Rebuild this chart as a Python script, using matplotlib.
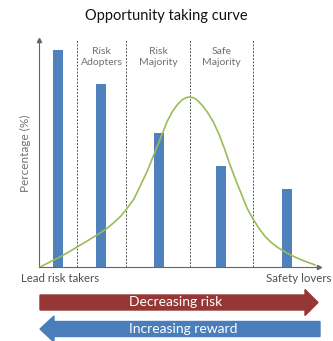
import numpy as np
import matplotlib
matplotlib.use("Agg")
import matplotlib.pyplot as plt
from matplotlib.patches import FancyArrow

plt.rcParams['font.family'] = ['Lato', 'DejaVu Sans']

# Data
bar_x = [19, 62, 120, 182, 248]
bar_h = [95.6, 80.6, 59.0, 44.5, 34.4]
div_x = [38, 87, 151, 214]
groups = ["Risk\nAdopters", "Risk\nMajority", "Safe\nMajority"]
curve_x = [1, 10, 20, 29, 38, 48, 58, 67, 75, 82, 88, 95, 101, 108, 114, 119, 124, 128, 133,
           138, 143, 147, 151, 155, 159, 164, 169, 174, 180, 186, 191, 197, 203, 208, 214,
           220, 226, 232, 238, 245, 252, 261, 268, 276]
curve_y = [0, 2.0, 4.2, 6.4, 8.8, 11.4, 14.1, 16.7, 19.6, 22.5, 25.8, 30.0, 35.5, 42.0, 48.5,
           54.0, 59.5, 64.0, 68.2, 71.3, 73.6, 74.6, 74.9, 74.5, 73.2, 70.8, 67.8, 64.2, 58.5,
           51.5, 45.0, 38.0, 31.5, 26.0, 21.2, 17.0, 13.5, 10.9, 8.8, 6.9, 5.2, 3.4, 2.2, 0.9]

bar_col = "#4f81bd"
green = "#9bbb59"

f = plt.figure(figsize=(3.33, 3.41), dpi=100)
ax = f.add_axes([39/333, 74/341, 280/333, 227/341])

ax.bar(bar_x, bar_h, width=10, color=bar_col, zorder=2)
ax.plot(curve_x, curve_y, color=green, lw=1.2, zorder=3)
for x in div_x:
    ax.axvline(x, color="#555555", lw=0.7, ls=(0, (2, 1.5)), zorder=1)
for i, g in enumerate(groups):
    cx = (div_x[i] + div_x[i + 1]) / 2
    ax.text(cx, 97, g, ha="center", va="top", fontsize=7.5, color="#707070",
            linespacing=1.35)

ax.set_xlim(0, 280)
ax.set_ylim(0, 100)
ax.set_xticks([])
ax.set_yticks([])
for s in ["top", "right"]:
    ax.spines[s].set_visible(False)
ax.spines["left"].set_color("#666666")
ax.spines["bottom"].set_color("#666666")
ax.spines["left"].set_linewidth(0.8)
ax.spines["bottom"].set_linewidth(0.8)
ax.plot(0, 100, marker="^", color="#666666", ms=3, clip_on=False)
ax.plot(280, 0, marker=">", color="#666666", ms=3, clip_on=False)

ax.set_ylabel("Percentage (%)", fontsize=8.5, color="#707070", labelpad=6)
f.text(166/333, 1 - 16/341, "Opportunity taking curve", ha="center", va="center",
       fontsize=10.5, color="#111111")
f.text(21/333, 1 - 278/341, "Lead risk takers", ha="left", va="center",
       fontsize=8.3, color="#505050")
f.text(332/333, 1 - 278/341, "Safety lovers", ha="right", va="center",
       fontsize=8.3, color="#505050")

# Arrows
aa = f.add_axes([0, 0, 1, 1])
aa.set_xlim(0, 333)
aa.set_ylim(341, 0)
aa.axis("off")
aa.add_patch(FancyArrow(40, 302.5, 278, 0, width=15, head_width=26, head_length=13,
                        length_includes_head=True, color="#953735"))
aa.add_patch(FancyArrow(320, 329, -280, 0, width=15, head_width=26, head_length=14,
                        length_includes_head=True, color="#4a7ebb"))
aa.text(176, 302.5, "Decreasing risk", ha="center", va="center", fontsize=10, color="white")
aa.text(183, 329, "Increasing reward", ha="center", va="center", fontsize=10, color="white")

plt.savefig("out.png", dpi=100)
plt.close(f)
